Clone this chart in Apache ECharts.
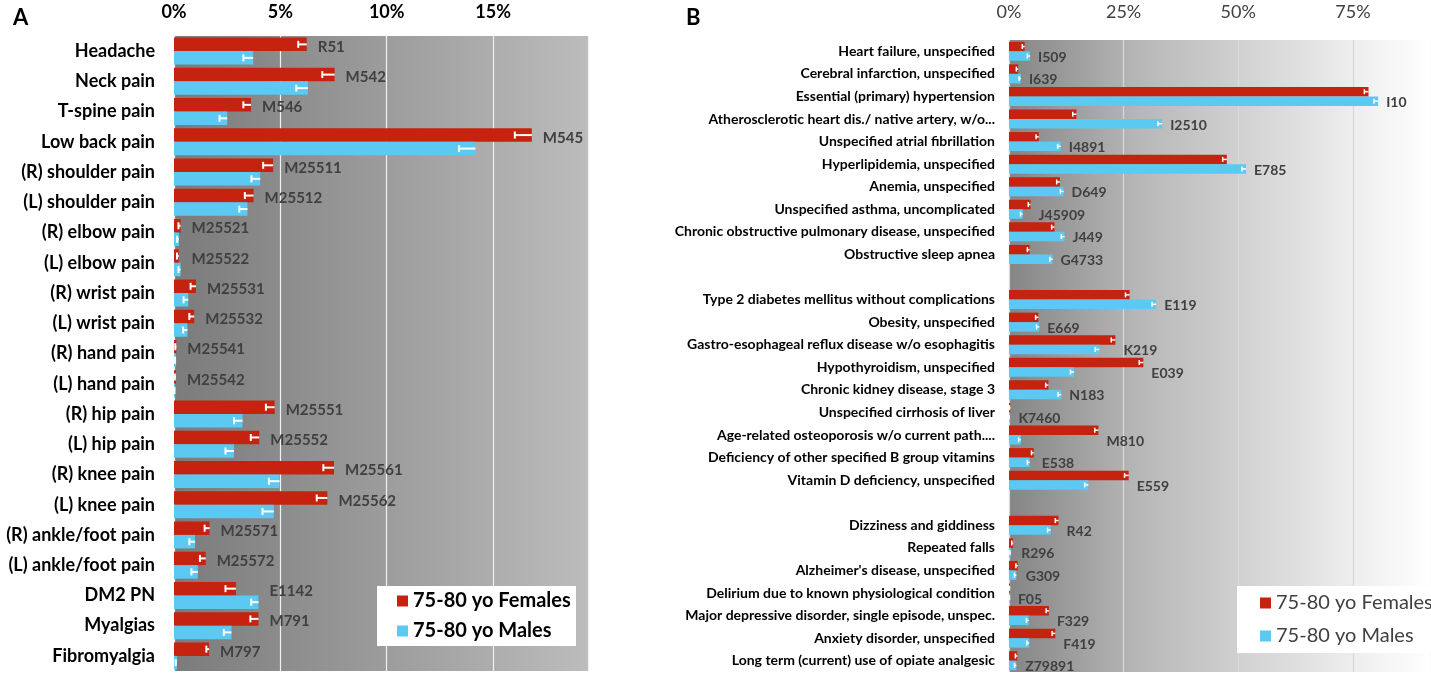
<!DOCTYPE html>
<html>
<head>
<meta charset="utf-8">
<script src="https://cdn.jsdelivr.net/npm/echarts@6/dist/echarts.min.js"></script>
<style>html,body{margin:0;padding:0;background:#fff}#c{width:1431px;height:678px}</style>
</head>
<body>
<div id="c"></div>
<script>
// ---------- Panel A data (percent) ----------
const catsA = ['Headache','Neck pain','T-spine pain','Low back pain','(R) shoulder pain','(L) shoulder pain','(R) elbow pain','(L) elbow pain','(R) wrist pain','(L) wrist pain','(R) hand pain','(L) hand pain','(R) hip pain','(L) hip pain','(R) knee pain','(L) knee pain','(R) ankle/foot pain','(L) ankle/foot pain','DM2 PN','Myalgias','Fibromyalgia'];
const codesA = ['R51','M542','M546','M545','M25511','M25512','M25521','M25522','M25531','M25532','M25541','M25542','M25551','M25552','M25561','M25562','M25571','M25572','E1142','M791','M797'];
const femA = [6.24,7.55,3.62,16.82,4.66,3.74,0.31,0.22,1.03,0.95,0.11,0.09,4.73,4.01,7.52,7.21,1.67,1.49,2.91,3.97,1.65];
const maleA = [3.72,6.29,2.50,14.17,4.05,3.45,0.23,0.31,0.67,0.63,0.09,0.05,3.22,2.82,4.96,4.69,0.99,1.12,3.97,2.70,0.14];
const femErrA = [0.40,0.58,0.36,0.80,0.47,0.41,0.10,0.08,0.25,0.23,0.05,0.05,0.41,0.40,0.50,0.50,0.23,0.27,0.49,0.38,0.13];
const maleErrA = [0.46,0.54,0.36,0.77,0.41,0.38,0.08,0.10,0.22,0.20,0.04,0.03,0.40,0.40,0.50,0.53,0.27,0.30,0.34,0.36,0.06];
const ticksA = [0,5,10,15];

// ---------- Panel B data (percent) ----------
const catsB = ['Heart failure, unspecified','Cerebral infarction, unspecified','Essential (primary) hypertension','Atherosclerotic heart dis./ native artery, w/o...','Unspecified atrial fibrillation','Hyperlipidemia, unspecified','Anemia, unspecified','Unspecified asthma, uncomplicated','Chronic obstructive pulmonary disease, unspecified','Obstructive sleep apnea',' ','Type 2 diabetes mellitus without complications','Obesity, unspecified','Gastro-esophageal reflux disease w/o esophagitis','Hypothyroidism, unspecified','Chronic kidney disease, stage 3','Unspecified cirrhosis of liver','Age-related osteoporosis w/o current path....','Deficiency of other specified B group vitamins','Vitamin D deficiency, unspecified','  ','Dizziness and giddiness','Repeated falls',"Alzheimer's disease, unspecified",'Delirium due to known physiological condition','Major depressive disorder, single episode, unspec.','Anxiety disorder, unspecified','Long term (current) use of opiate analgesic'];
const codesB = ['I509','I639','I10','I2510','I4891','E785','D649','J45909','J449','G4733','','E119','E669','K219','E039','N183','K7460','M810','E538','E559','','R42','R296','G309','F05','F329','F419','Z79891'];
const femB = [3.4,2.0,78.4,14.7,6.5,47.5,11.1,4.7,9.9,4.5,null,26.3,6.4,23.2,29.3,8.6,0.3,19.5,5.4,26.1,null,10.8,0.9,1.9,0.2,8.7,10.1,1.8];
const maleB = [4.6,2.6,80.5,33.4,11.3,51.7,11.9,3.0,12.1,9.5,null,32.1,6.6,19.7,14.2,11.4,0.2,2.6,4.5,17.3,null,9.1,0.4,1.6,0.2,4.3,4.4,1.6];
const femErrB = [0.5,0.4,0.9,0.8,0.6,0.9,0.7,0.5,0.6,0.5,null,0.9,0.6,0.9,0.9,0.6,0.2,0.8,0.5,0.9,null,0.7,0.3,0.4,0.1,0.6,0.7,0.4];
const maleErrB = [0.6,0.4,0.9,0.9,0.7,0.9,0.7,0.5,0.7,0.6,null,0.9,0.6,0.9,0.8,0.7,0.2,0.5,0.5,0.8,null,0.7,0.2,0.4,0.1,0.5,0.5,0.4];
const ticksB = [0,25,50,75];

const seriesNames = ['75-80 yo Females','75-80 yo Males'];
const RED = '#c5230f', BLUE = '#5bc9f1';
const FONT = 'Lato, "Open Sans", sans-serif';

const BW_A = 13.5, BW_B = 9.5;

function errSeries(vals, errs, axisIdx, offset, capH, lw){
  const data = [];
  vals.forEach((v,i)=>{ if(v!=null) data.push([i, v, errs[i]]); });
  return {
    type:'custom', xAxisIndex:axisIdx, yAxisIndex:axisIdx, z:4, silent:true,
    encode:{x:1, y:0},
    data,
    renderItem(params, api){
      const i = api.value(0), v = api.value(1), e = api.value(2);
      const p1 = api.coord([v, i]);
      const p0 = api.coord([Math.max(0, v - e), i]);
      const y = p1[1] + offset;
      return {type:'group', children:[
        {type:'line', shape:{x1:p0[0], y1:y, x2:p1[0], y2:y}, style:{stroke:'#fff', lineWidth:lw}},
        {type:'line', shape:{x1:p0[0], y1:y-capH/2, x2:p0[0], y2:y+capH/2}, style:{stroke:'#fff', lineWidth:lw}}
      ]};
    }
  };
}

function labelSeries(f, m, codes, axisIdx, dx, dy, font, size, weight){
  const data = [];
  f.forEach((v,i)=>{ if(v!=null) data.push([i, Math.max(v, m[i])]); });
  return {
    type:'custom', xAxisIndex:axisIdx, yAxisIndex:axisIdx, z:5, silent:true,
    encode:{x:1, y:0},
    data,
    renderItem(params, api){
      const i = api.value(0), v = api.value(1);
      const p = api.coord([v, i]);
      return {type:'text', x:p[0]+dx, y:p[1]+dy,
        style:{text:codes[i], fill:'#404040', font: weight+' '+size+'px '+font, verticalAlign:'middle'}};
    }
  };
}

function gradient(stops){
  return new echarts.graphic.LinearGradient(0,0,1,0, stops);
}

const chart = echarts.init(document.getElementById('c'), null, {renderer:'canvas'});
const option = {
  animation:false,
  title:[
    {text:'A', left:8, top:2, textStyle:{fontFamily:FONT, fontWeight:'bold', fontSize:22, color:'#000'}},
    {text:'B', left:681, top:2, textStyle:{fontFamily:FONT, fontWeight:'bold', fontSize:22, color:'#000'}}
  ],
  grid:[
    {left:174, top:36, width:414, height:635, show:true, borderWidth:0,
     backgroundColor: gradient([{offset:0,color:'#7b7b7b'},{offset:1,color:'#bcbcbc'}])},
    {left:1009, top:40, width:426, height:632, show:true, borderWidth:0,
     backgroundColor: gradient([{offset:0,color:'#858585'},{offset:0.3,color:'#b6b6b6'},{offset:0.8,color:'#ececec'},{offset:1,color:'#ffffff'}])}
  ],
  xAxis:[
    {gridIndex:0, type:'value', position:'top', min:0, max:19.46, interval:5,
     axisLine:{show:false}, axisTick:{show:false},
     splitLine:{show:true, lineStyle:{color:'#f0f0f0', width:1.2}},
     axisLabel:{showMaxLabel:false, margin:15, color:'#000', fontFamily:FONT, fontWeight:'bold', fontSize:18,
       formatter:(v)=> ticksA.includes(v) ? v+'%' : ''}},
    {gridIndex:1, type:'value', position:'top', min:0, max:92.03, interval:25,
     axisLine:{show:false}, axisTick:{show:false},
     splitLine:{show:true, lineStyle:{color:'#d9d9d9', width:1.2}},
     axisLabel:{showMaxLabel:false, margin:19, color:'#404040', fontFamily:FONT, fontSize:18,
       formatter:(v)=> ticksB.includes(v) ? v+'%' : ''}}
  ],
  yAxis:[
    {gridIndex:0, type:'category', inverse:true, data:catsA,
     axisLine:{show:false}, axisTick:{show:false}, splitLine:{show:false},
     axisLabel:{margin:19, color:'#000', fontFamily:FONT, fontWeight:'bold', fontSize:18, interval:0}},
    {gridIndex:1, type:'category', inverse:true, data:catsB,
     axisLine:{show:false}, axisTick:{show:false}, splitLine:{show:false},
     axisLabel:{margin:14, color:'#000', fontFamily:FONT, fontWeight:'bold', fontSize:14, interval:0}}
  ],
  legend:[
    {data:seriesNames, orient:'vertical', left:397, top:591, padding:0, itemGap:10,
     itemWidth:11, itemHeight:11, icon:'rect', z:11,
     textStyle:{fontFamily:FONT, fontWeight:'bold', fontSize:20, color:'#000'}},
    {data:seriesNames, orient:'vertical', left:1260, top:593, padding:0, itemGap:13,
     itemWidth:11, itemHeight:11, icon:'rect', z:11,
     textStyle:{fontFamily:FONT, fontSize:20, color:'#404040'}}
  ],
  graphic:[
    {type:'rect', z:10, shape:{x:377, y:586, width:199, height:60}, style:{fill:'#fff'}},
    {type:'rect', z:10, shape:{x:1237, y:586, width:194, height:67}, style:{fill:'#fff'}}
  ],
  series:[
    {name:seriesNames[0], type:'bar', xAxisIndex:0, yAxisIndex:0, data:femA, barWidth:BW_A, barGap:'0%', itemStyle:{color:RED}},
    {name:seriesNames[1], type:'bar', xAxisIndex:0, yAxisIndex:0, data:maleA, barWidth:BW_A, barGap:'0%', itemStyle:{color:BLUE}},
    {name:seriesNames[0], type:'bar', xAxisIndex:1, yAxisIndex:1, data:femB, barWidth:BW_B, barGap:'0%', itemStyle:{color:RED}},
    {name:seriesNames[1], type:'bar', xAxisIndex:1, yAxisIndex:1, data:maleB, barWidth:BW_B, barGap:'0%', itemStyle:{color:BLUE}},
    errSeries(femA, femErrA, 0, -BW_A/2, 7, 2),
    errSeries(maleA, maleErrA, 0, BW_A/2, 7, 2),
    errSeries(femB, femErrB, 1, -BW_B/2, 5, 1.5),
    errSeries(maleB, maleErrB, 1, BW_B/2, 5, 1.5),
    labelSeries(femA, maleA, codesA, 0, 11, -4, FONT, 15, 'bold'),
    labelSeries(femB, maleB, codesB, 1, 8, 6, FONT, 14, 'bold')
  ]
};
chart.setOption(option);
</script>
</body>
</html>
